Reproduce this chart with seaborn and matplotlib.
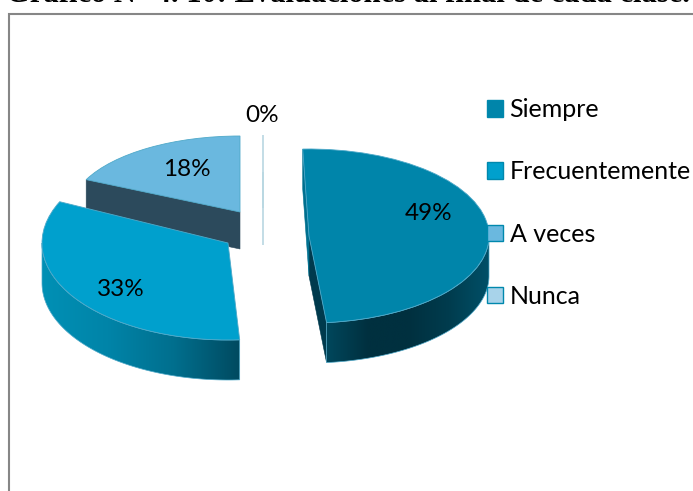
import numpy as np
import matplotlib
matplotlib.use("Agg")
import matplotlib.pyplot as plt
from matplotlib.colors import LinearSegmentedColormap
from matplotlib.patches import Patch, Polygon, Rectangle
import seaborn as sns

title = "Gráfico N° 4. 10: Evaluaciones al final de cada clase."
categories = ["Siempre", "Frecuentemente", "A veces", "Nunca"]
shares = [49, 33, 18, 0]
face_colors = ["#0085aa", "#00a0cd", "#6ab8df", "#a8d3ea"]
edge_color = "#4fa9c9"

W, H = 693, 491
sns.set_theme(style="white")
plt.rcParams["font.family"] = ["Lato", "DejaVu Sans"]
palette = sns.color_palette(face_colors)

fig = plt.figure(figsize=(W / 100, H / 100), dpi=100, facecolor="white")
fig.add_artist(Rectangle((8.5 / W, -0.1), 1.1, 0.1 + (H - 13.5) / H, transform=fig.transFigure,
                         fill=False, edgecolor="#868686", linewidth=1.5))
fig.text(6 / W, 1 - 2 / H, title, family="Liberation Serif", weight="bold", fontsize=22,
         color="black", va="baseline", ha="left")


def arc(wedge, t1, t2, drop=0.0):
    t = np.radians(np.linspace(t1, t2, 120))
    cx, cy = wedge.center
    return np.column_stack([cx + wedge.r * np.cos(t), cy + wedge.r * np.sin(t) - drop])


def draw_slice(i, cx, cy, rx, ry, depth, start=90, wall=None, cuts=()):
    # each slice gets its own squash because the 3d pie has perspective
    s = ry / rx
    ax = fig.add_axes([0, 0, 1, 1])
    colors = [palette[k] if k == i else (0, 0, 0, 0) for k in range(len(shares))]
    values = shares if shares[i] > 0 else [1e-9 if k == i else v for k, v in enumerate(shares)]
    wedges, _ = ax.pie(values, colors=colors, startangle=start, counterclock=False,
                       center=(cx, (H - cy) / s), radius=rx)
    wedge = wedges[i]
    wedge.set_edgecolor(edge_color if shares[i] > 0 else "#b9d7e2")
    wedge.set_linewidth(0.6 if shares[i] > 0 else 1.2)
    for k, w in enumerate(wedges):
        if k != i:
            w.set_visible(False)
    d = depth / s
    xc, yc = wedge.center

    # cut faces, from the slice edge straight down by the depth
    for theta, color in cuts:
        tip = arc(wedge, theta, theta)[0]
        ax.add_patch(Polygon([(xc, yc), tip, (tip[0], tip[1] - d), (xc, yc - d)],
                             facecolor=color, edgecolor=color, linewidth=0.4, zorder=0.6))

    # outer wall with a left to right gradient
    if wall is not None:
        t1, t2 = wedge.theta1, wedge.theta2
        while t1 < 0:
            t1 += 360
            t2 += 360
        lo, hi = max(t1, 180), min(t2, 360)
        if t2 > 360 and t1 < 180:
            lo, hi = 180, 360
        if t1 < 180 and t2 <= 180:
            lo, hi = t1 + 360, min(t2 + 360, 360)
        if t1 >= 360:
            lo, hi = t1, t2
        pts = np.vstack([arc(wedge, lo, hi), arc(wedge, hi, lo, d)])
        poly = Polygon(pts, facecolor="none", edgecolor=edge_color, linewidth=0.5, zorder=0.8)
        ax.add_patch(poly)
        cmap = LinearSegmentedColormap.from_list("wall", wall)
        im = ax.imshow(np.linspace(0, 1, 256).reshape(1, -1), cmap=cmap, aspect="auto", zorder=0.7,
                       extent=(pts[:, 0].min(), pts[:, 0].max(), pts[:, 1].min(), pts[:, 1].max()))
        im.set_clip_path(poly)

    ax.set_aspect("auto")
    ax.set_xlim(0, W)
    ax.set_ylim(0, H / s)
    ax.set_axis_off()
    ax.patch.set_alpha(0)
    return ax


draw_slice(2, 240, 212, 170, 76, 37, cuts=[(154.8, "#2c4a5c")])
# zero share: only the edge line shows, top face and its drop
draw_slice(3, 263, 208, 170, 73, 37)
draw_slice(3, 263, 245, 170, 73, 37)
draw_slice(1, 228, 243, 186, 97, 40,
           wall=["#0090b5", "#0084a8", "#006f8e", "#004a60"])
draw_slice(0, 309, 236, 180, 87, 40, start=92,
           wall=["#00475c", "#00303f", "#00303f", "#003c4e", "#005068"],
           cuts=[(-84.4, "#003a4d"), (92, "#00708f")])

label_pos = [(429, 214), (121, 290), (187, 169), (262, 116)]
for share, (px, py) in zip(shares, label_pos):
    fig.text(px / W, 1 - py / H, f"{share}%", fontsize=17.5, color="black", ha="center", va="center")

handles = [Patch(facecolor=c, edgecolor="#0088ad", linewidth=1) for c in palette]
fig.legend(handles, categories, loc="center left", bbox_to_anchor=(487 / W, 1 - 203 / H),
           frameon=False, fontsize=18, handlelength=0.64, handleheight=0.64, handletextpad=0.26,
           labelspacing=1.57, borderpad=0, borderaxespad=0, labelcolor="black")

fig.savefig("out.png", dpi=100, facecolor="white")
